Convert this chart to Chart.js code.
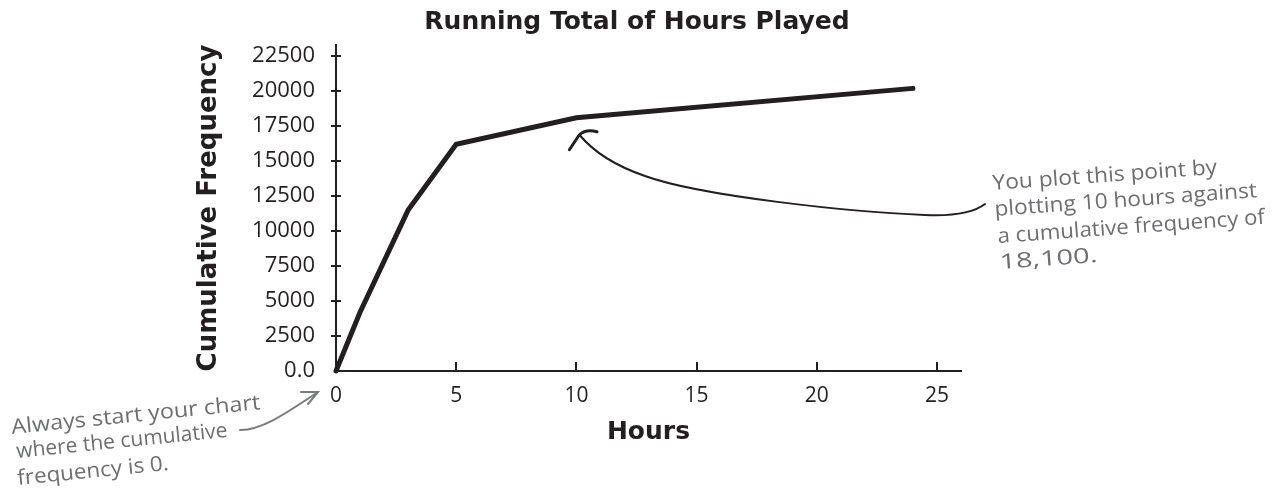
<!DOCTYPE html>
<html>
<head>
<meta charset="utf-8">
<script src="https://cdn.jsdelivr.net/npm/chart.js@4.4.1/dist/chart.umd.min.js"></script>
<style>
  html, body { margin: 0; padding: 0; background: #fff; }
  #wrap { width: 1274px; height: 500px; position: relative; }
</style>
</head>
<body>
<div id="wrap"><canvas id="chart" width="1274" height="500"></canvas></div>
<script>
// data
const hours = [0, 1, 3, 5, 10, 24];
const cumulative = [0, 4200, 11500, 16200, 18100, 20200];
const xTickValues = [0, 5, 10, 15, 20, 25];
const yTickValues = [0, 2500, 5000, 7500, 10000, 12500, 15000, 17500, 20000, 22500];

const ink = '#231f20';
const noteGrey = '#6d6e71';

const noteLeft = ['Always start your chart', 'where the cumulative', 'frequency is 0.'];
const noteRight = ['You plot this point by', 'plotting 10 hours against', 'a cumulative frequency of', '18,100.'];

// little tick marks: x ticks point up into the chart, y ticks cross the axis
const tickMarks = {
    id: 'tickMarks',
    beforeDatasetsDraw(chart) {
        const { ctx, chartArea, scales: { x, y } } = chart;
        ctx.save();
        ctx.strokeStyle = ink;
        ctx.lineWidth = 2;
        ctx.beginPath();
        x.ticks.forEach(t => {
            if (t.value === 0) return;
            const px = Math.round(x.getPixelForValue(t.value));
            ctx.moveTo(px, chartArea.bottom);
            ctx.lineTo(px, chartArea.bottom - 9);
        });
        y.ticks.forEach(t => {
            if (t.value === 0) return;
            const py = Math.round(y.getPixelForValue(t.value));
            ctx.moveTo(chartArea.left - 5, py);
            ctx.lineTo(chartArea.left + 5, py);
        });
        ctx.stroke();
        ctx.restore();
    }
};

// each line: [x, y, width it should fill]
function writeLines(ctx, lines, spots, angle) {
    lines.forEach((txt, i) => {
        const [sx, sy, w] = spots[i];
        const k = w / ctx.measureText(txt).width;
        ctx.save();
        ctx.translate(sx, sy);
        ctx.rotate(angle);
        ctx.scale(k, 1);
        ctx.fillText(txt, 0, 0);
        ctx.restore();
    });
}

// hand-written notes and arrows
const notes = {
    id: 'notes',
    afterDraw(chart) {
        const { ctx, scales: { x, y } } = chart;
        ctx.save();
        ctx.fillStyle = noteGrey;
        ctx.font = '21px "Open Sans"';
        ctx.textBaseline = 'alphabetic';
        writeLines(ctx, noteLeft, [[12, 434, 250], [17, 458, 212], [18, 485, 152]], -0.10);
        writeLines(ctx, noteRight, [[993, 190, 225], [995, 216, 263], [998, 243, 268], [1000, 269, 98]], -0.072);

        // arrow to the 10 hour point
        const tipX = x.getPixelForValue(hours[4]) + 3;
        const tipY = y.getPixelForValue(cumulative[4]) + 17;
        ctx.strokeStyle = ink;
        ctx.lineWidth = 2;
        ctx.lineCap = 'round';
        ctx.beginPath();
        ctx.moveTo(985, 204);
        ctx.quadraticCurveTo(968, 217, 925, 215);
        ctx.bezierCurveTo(850, 212, 700, 196, 645, 176);
        ctx.bezierCurveTo(610, 164, 592, 150, tipX, tipY);
        ctx.stroke();
        ctx.lineWidth = 3;
        ctx.beginPath();
        ctx.moveTo(tipX - 10, tipY + 15);
        ctx.lineTo(tipX, tipY);
        ctx.quadraticCurveTo(586, tipY - 6, 597, tipY - 3);
        ctx.stroke();

        // arrow to the origin
        ctx.strokeStyle = '#7a7b7e';
        ctx.lineWidth = 2;
        ctx.beginPath();
        ctx.moveTo(240, 430);
        ctx.bezierCurveTo(262, 430, 285, 414, 318, 392);
        ctx.stroke();
        ctx.beginPath();
        ctx.moveTo(301, 392);
        ctx.lineTo(318, 392);
        ctx.lineTo(308, 404);
        ctx.stroke();
        ctx.restore();
    }
};

const points = hours.map((h, i) => ({ x: h, y: cumulative[i] }));

new Chart(document.getElementById('chart'), {
    type: 'line',
    data: {
        datasets: [{
            data: points,
            borderColor: ink,
            borderWidth: 5,
            pointRadius: 0,
            tension: 0,
            fill: false,
            borderCapStyle: 'round',
            clip: false
        }]
    },
    options: {
        responsive: false,
        animation: false,
        devicePixelRatio: 1,
        layout: { padding: 0 },
        plugins: {
            legend: { display: false },
            tooltip: { enabled: false },
            title: {
                display: true,
                text: 'Running Total of Hours Played',
                color: ink,
                font: { family: 'DejaVu Sans', weight: 'bold', size: 25 },
                padding: { top: 7, bottom: 8 }
            }
        },
        scales: {
            x: {
                type: 'linear',
                min: 0,
                max: 26,
                afterBuildTicks: s => { s.ticks = xTickValues.map(v => ({ value: v })); },
                afterFit: s => { s.height = 129; },
                grid: { display: false, drawTicks: false },
                border: { display: true, color: ink, width: 2 },
                ticks: {
                    color: ink,
                    padding: 12,
                    font: { family: 'Open Sans', size: 21 },
                    callback: v => String(v)
                },
                title: {
                    display: true,
                    text: 'Hours',
                    color: ink,
                    font: { family: 'DejaVu Sans', weight: 'bold', size: 25 },
                    padding: { top: 0, bottom: 53 }
                }
            },
            y: {
                type: 'linear',
                min: 0,
                max: 23300,
                afterBuildTicks: s => { s.ticks = yTickValues.map(v => ({ value: v })); },
                afterFit: s => { s.width = 336; },
                grid: { display: false, drawTicks: false },
                border: { display: true, color: ink, width: 2 },
                ticks: {
                    color: ink,
                    padding: 21,
                    font: { family: 'Open Sans', size: 22 },
                    callback: v => v === 0 ? '0.0' : String(v)
                },
                title: {
                    display: true,
                    text: 'Cumulative Frequency',
                    color: ink,
                    font: { family: 'DejaVu Sans', weight: 'bold', size: 26 },
                    padding: { top: 194, bottom: 0 }
                }
            },
            // empty right-hand box so the plot stops where the notes begin
            side: {
                position: 'right',
                display: true,
                afterFit: s => { s.width = 313; },
                grid: { display: false, drawTicks: false },
                border: { display: false },
                ticks: { display: false }
            }
        }
    },
    plugins: [tickMarks, notes]
});
</script>
</body>
</html>
